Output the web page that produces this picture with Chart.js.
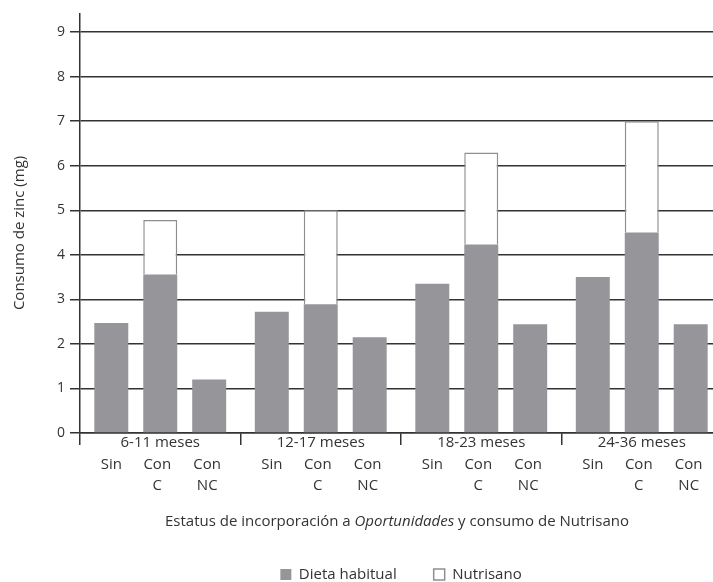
<!DOCTYPE html>
<html>
<head>
<meta charset="utf-8">
<script src="https://cdn.jsdelivr.net/npm/chart.js@4"></script>
<style>
  html, body { margin: 0; padding: 0; background: #fff; overflow: hidden; }
  #wrap { width: 722px; height: 592px; }
</style>
</head>
<body>
<div id="wrap"><canvas id="zincChart" width="722" height="592"></canvas></div>
<script>
const grupos = ["6-11 meses", "12-17 meses", "18-23 meses", "24-36 meses"];
const sinValues = [2.47, 2.72, 3.35, 3.5];
const conCDieta = [3.56, 2.89, 4.23, 4.5];
const conCNutrisano = [1.22, 2.11, 2.07, 2.5];
const conNCValues = [1.2, 2.15, 2.44, 2.44];
const yTicks = [0, 1, 2, 3, 4, 5, 6, 7, 8, 9];
const subLabels = [["Sin"], ["Con", "C"], ["Con", "NC"]];

const gray = "#96959a";
const ink = "#333333";
const fontFamily = "'Open Sans', sans-serif";

Chart.defaults.font.family = fontFamily;
Chart.defaults.color = ink;

// sub labels under each bar + the mixed italic axis title
const extraText = {
    id: "extraText",
    afterDraw(chart) {
        const ctx = chart.ctx;
        const area = chart.chartArea;
        const metas = [chart.getDatasetMeta(0), chart.getDatasetMeta(1), chart.getDatasetMeta(3)];
        const shift = [0, -3, -2];
        ctx.save();
        ctx.fillStyle = ink;
        ctx.font = "15px " + fontFamily;
        ctx.textAlign = "center";
        ctx.textBaseline = "middle";
        metas.forEach((meta, k) => {
            meta.data.forEach(bar => {
                subLabels[k].forEach((txt, row) => {
                    ctx.fillText(txt, bar.x + shift[k], area.bottom + 32 + row * 21);
                });
            });
        });

        const parts = [
            ["Estatus de incorporación a ", "normal"],
            ["Oportunidades", "italic"],
            [" y consumo de Nutrisano", "normal"]
        ];
        let total = 0;
        parts.forEach(p => {
            ctx.font = p[1] + " 15px " + fontFamily;
            p.push(ctx.measureText(p[0]).width);
            total += p[2];
        });
        let x = (area.left + area.right) / 2 - 4 - total / 2;
        ctx.textAlign = "left";
        parts.forEach(p => {
            ctx.font = p[1] + " 15px " + fontFamily;
            ctx.fillText(p[0], x, area.bottom + 89);
            x += p[2];
        });
        ctx.restore();
    }
};

new Chart("zincChart", {
    type: "bar",
    data: {
        labels: grupos,
        datasets: [
            {
                label: "Dieta habitual",
                data: sinValues,
                stack: "sin",
                backgroundColor: gray,
                borderWidth: 0
            },
            {
                label: "Dieta habitual",
                data: conCDieta,
                stack: "conC",
                backgroundColor: gray,
                borderWidth: 0
            },
            {
                label: "Nutrisano",
                data: conCNutrisano,
                stack: "conC",
                backgroundColor: "#ffffff",
                borderColor: "#8e8e92",
                borderWidth: 1.5,
                borderSkipped: "bottom"
            },
            {
                label: "Dieta habitual",
                data: conNCValues,
                stack: "conNC",
                backgroundColor: gray,
                borderWidth: 0
            }
        ]
    },
    options: {
        responsive: false,
        animation: false,
        devicePixelRatio: 1,
        categoryPercentage: 0.915,
        barPercentage: 0.694,
        layout: { padding: { top: 10, right: 0, left: 0, bottom: 0 } },
        plugins: {
            tooltip: { enabled: false },
            legend: {
                position: "bottom",
                fullSize: false,
                labels: {
                    boxWidth: 11,
                    boxHeight: 11,
                    padding: 37,
                    color: ink,
                    font: { size: 15 },
                    filter: item => item.datasetIndex === 0 || item.datasetIndex === 2
                }
            }
        },
        scales: {
            x: {
                stacked: true,
                afterFit: s => { s.height = 97; },
                border: { display: true, color: ink, width: 1.5 },
                grid: {
                    offset: true,
                    drawOnChartArea: false,
                    drawTicks: true,
                    tickLength: 12,
                    color: ink,
                    lineWidth: 1.5
                },
                ticks: {
                    padding: -11,
                    color: ink,
                    font: { size: 15 },
                    maxRotation: 0
                }
            },
            y: {
                stacked: true,
                min: 0,
                max: 9.42,
                afterFit: s => { s.width = 80; },
                afterBuildTicks: s => { s.ticks = yTicks.map(v => ({ value: v })); },
                border: { display: true, color: ink, width: 1.5 },
                grid: {
                    color: ink,
                    lineWidth: 1.5,
                    tickLength: 10
                },
                ticks: {
                    padding: 5,
                    color: ink,
                    font: { size: 14 }
                },
                title: {
                    display: true,
                    text: "Consumo de zinc (mg)     ",
                    color: ink,
                    font: { size: 15 },
                    padding: { top: 11, bottom: 0 }
                }
            }
        }
    },
    plugins: [extraText]
});
</script>
</body>
</html>
